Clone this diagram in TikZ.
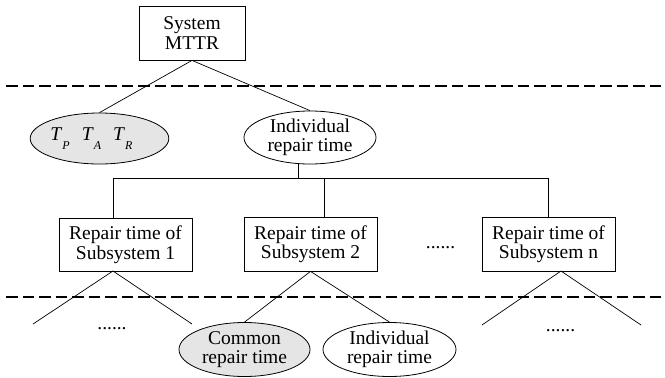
\documentclass[tikz,border=0pt]{standalone}
\usepackage{fontspec}
\setmainfont{Liberation Serif}
\usetikzlibrary{shapes.geometric}
\newcommand\tsubx[2]{\textit{#1\/}\raisebox{-8.5pt}{\fontsize{12}{12}\selectfont\textit{#2}}}
\begin{document}
\begin{tikzpicture}[x=1pt,y=-1pt,
  every node/.style={font=\fontsize{19.5}{19.5}\selectfont, align=center},
  rbox/.style={draw, line width=0.8pt, minimum width=133pt, minimum height=53pt, inner sep=0pt},
  oval/.style={draw, ellipse, line width=0.8pt, minimum width=133pt, minimum height=53pt, inner sep=0pt},
  grayoval/.style={oval, fill=black!10},
  link/.style={line width=0.7pt},
  sep/.style={line width=2.6pt, dash pattern=on 11.5pt off 5pt},
  dotstext/.style={inner sep=0pt, anchor=base}]
\useasboundingbox (0,0) rectangle (665,378);
% top box
\node[rbox, minimum width=106pt, minimum height=54pt] (sys) at (192,33) {System\\MTTR};
% separators
\coordinate (d1a) at (6,86); \coordinate (d1b) at (665,86);
\coordinate (d2a) at (6,297); \coordinate (d2b) at (665,297);
\draw[sep] (d1a) -- (d1b);
\draw[sep] (d2a) -- (d2b);
% second level
\node[grayoval, minimum height=51pt] (tp) at (99.5,138.5) {\tsubx{T}{P}\hspace{12pt}\tsubx{T}{A}\hspace{12pt}\tsubx{T}{R}\hspace{16pt}};
\node[oval, minimum width=132pt] (ind1) at (310,137.5) {Individual\\repair time};
\draw[link] (sys.south) -- (tp.north);
\draw[link] (sys.south) -- (ind1.north);
% bar
\coordinate (j) at (298,178);
\coordinate (v1) at (113,178);
\coordinate (v2) at (324,178);
\coordinate (v3) at (548,178);
\draw[link] (ind1.south -| j) -- (j);
\draw[link] (v1) -- (v3);
% subsystem boxes
\node[rbox] (b1) at (125.5,244.5) {Repair time of\\Subsystem 1};
\node[rbox, minimum height=54pt] (b2) at (310.5,244) {Repair time of\\Subsystem 2};
\node[rbox, minimum height=54pt] (bn) at (548.5,244) {Repair time of\\Subsystem n};
\draw[link] (v1) -- (v1 |- b1.north);
\draw[link] (v2) -- (v2 |- b2.north);
\draw[link] (v3) -- (v3 |- bn.north);
\node[dotstext] (dm) at (440.5,248.5) {......};
% third level
\coordinate (a1) at (113,271);
\coordinate (an) at (561,271);
\coordinate (l1) at (33,324); \coordinate (r1) at (192,324);
\coordinate (l3) at (482,325); \coordinate (r3) at (641,325);
\draw[link] (a1) -- (l1);
\draw[link] (a1) -- (r1);
\draw[link] (an) -- (l3);
\draw[link] (an) -- (r3);
\node[grayoval, minimum width=131pt, minimum height=54pt] (com) at (244.5,349.5) {Common\\repair time};
\node[oval, minimum height=54pt] (ind2) at (389.5,349.5) {Individual\\repair time};
\draw[link] (b2.south) -- (com.north);
\draw[link] (b2.south) -- (ind2.north);
\node[dotstext] (dl) at (112,329.5) {......};
\node[dotstext] (dr) at (560.5,331.5) {......};
\end{tikzpicture}
\end{document}
